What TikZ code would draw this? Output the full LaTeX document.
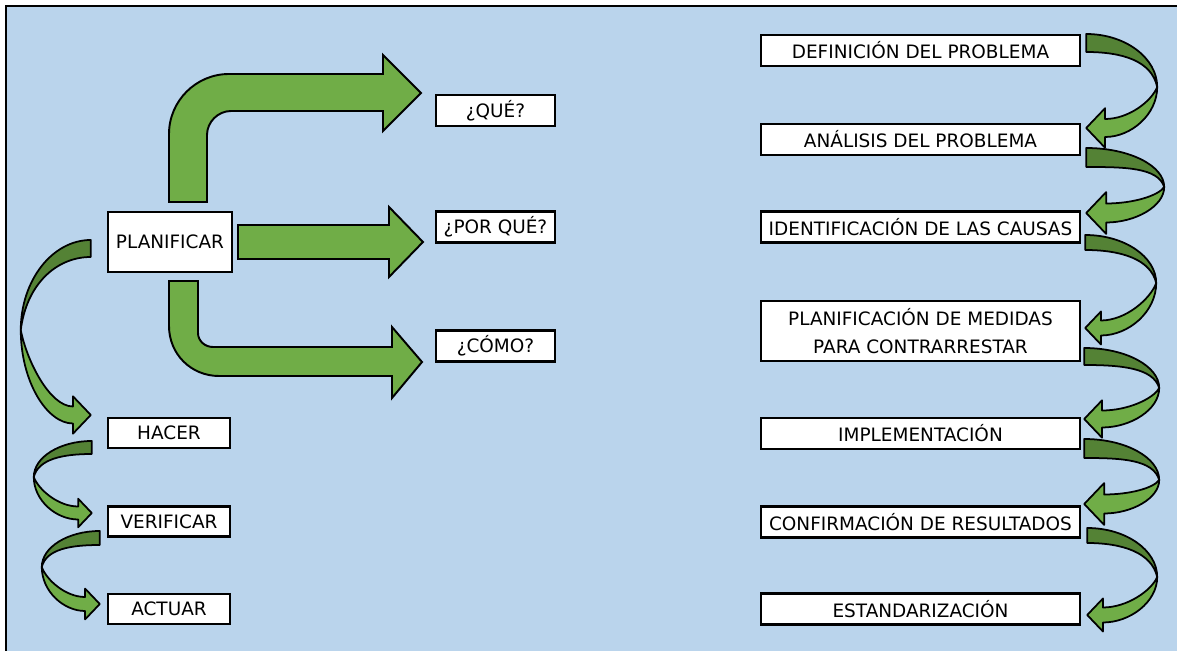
\documentclass[tikz,border=0pt]{standalone}
\usepackage{fontspec}
\setmainfont{DejaVu Sans}
\usetikzlibrary{calc}
\definecolor{skyback}{RGB}{186,212,236}
\definecolor{leafgreen}{RGB}{112,173,71}
\definecolor{darkleaf}{RGB}{84,130,53}

% curled ribbon arrow: #1 reach, #2 depth of the turn, #3 drop to the tip, #4 tail width
\tikzset{
  pics/curl/.style n args={4}{code={
    \filldraw[fill=darkleaf, draw=black, line width=1pt, line join=round]
      (0,0) .. controls (-0.55*#1,0) and (-#1,0.45*#2) .. (-#1,#2)
      .. controls (-0.92*#1,0.5*#2) and (-0.5*#1,#4) .. (0,#4) -- cycle;
    \filldraw[fill=leafgreen, draw=black, line width=1pt, line join=round]
      (-#1,#2) .. controls (-#1,{#2+0.55*(#3+0.5*#4-#2)}) and ({-0.5*#1-0.525*#4},{#3+0.5*#4}) .. ({-1.05*#4},{#3+0.5*#4})
      -- ({-1.05*#4},{#3+1.1*#4}) -- (0,#3) -- ({-1.05*#4},{#3-1.1*#4}) -- ({-1.05*#4},{#3-0.5*#4})
      .. controls ({-0.45*#1-0.58*#4},{#3-0.5*#4}) and ({-0.92*#1},{#2+0.35*(#3-#2)}) .. (-#1,#2) -- cycle;
  }}
}

\begin{document}
\begin{tikzpicture}[x=0.02cm, y=-0.02cm,
    box/.style={draw, fill=white, line width=1.4pt, inner sep=0pt, font=\fontsize{10.5}{12}\selectfont},
    pdca/.style={box, minimum width=2.44cm, minimum height=0.6cm},
    ask/.style={box, minimum width=2.38cm, minimum height=0.62cm},
    phase/.style={box, minimum width=6.38cm, minimum height=0.62cm},
    bigarrow/.style={fill=leafgreen, draw=black, line width=1.1pt}]
  \useasboundingbox (0,0) rectangle (1177,651);
  \fill[skyback] (6,6) rectangle (1177,651);
  \draw[line width=1.2pt] (6,651) -- (6,6) -- (1177,6);

  % left column
  \node[pdca, minimum width=2.48cm, minimum height=1.2cm] (plan) at (170,242) {PLANIFICAR};
  \node[pdca] (hacer) at (169,433) {HACER};
  \node[pdca] (verif) at (169,521.5) {VERIFICAR};
  \node[pdca] (actuar) at (169,609) {ACTUAR};

  % questions
  \node[ask] (que) at (495.5,110.5) {¿QUÉ?};
  \node[ask] (porque) at (495.5,227) {¿POR QUÉ?};
  \node[ask] (como) at (495.5,346) {¿CÓMO?};

  % right column
  \node[phase] (defin) at (920.5,50.5) {DEFINICIÓN DEL PROBLEMA};
  \node[phase] (analisis) at (920.5,139.5) {ANÁLISIS DEL PROBLEMA};
  \node[phase] (causas) at (920.5,227) {IDENTIFICACIÓN DE LAS CAUSAS};
  \node[phase, minimum height=1.2cm, align=center] (medidas) at (920.5,331) {PLANIFICACIÓN DE MEDIDAS\\[4pt]PARA CONTRARRESTAR};
  \node[phase] (implem) at (920.5,433.5) {IMPLEMENTACIÓN};
  \node[phase] (confirm) at (920.5,522) {CONFIRMACIÓN DE RESULTADOS};
  \node[phase] (estand) at (920.5,609) {ESTANDARIZACIÓN};

  % bent arrows out of PLANIFICAR
  \draw[bigarrow] (169,202) -- (169,134) .. controls (169,101) and (196,74) .. (229,74)
    -- (383,74) -- (383,55) -- (421,93) -- (383,131) -- (383,111) -- (231,111)
    .. controls (218,111) and (207,122) .. (207,135) -- (207,202) -- cycle;
  \draw[bigarrow] (238,225) -- (389,225) -- (389,207) -- (423,242) -- (389,277)
    -- (389,259) -- (238,259) -- cycle;
  \draw[bigarrow] (169,281) -- (198,281) -- (198,333) .. controls (198,341) and (205,347) .. (213,347)
    -- (392,347) -- (392,327) -- (422,362) -- (392,398) -- (392,376) -- (219,376)
    .. controls (191,376) and (169,354) .. (169,326) -- cycle;

  % curls on the left
  \pic at ($(plan.west)+(-16,-2)$) {curl={70}{90}{175}{17}};
  \pic at ($(hacer.west)+(-15,8)$) {curl={58}{36}{72}{13}};
  \pic at ($(verif.west)+(-7,9.5)$) {curl={58}{36}{73}{14}};

  % curls on the right
  \pic[xscale=-1] at ($(defin.east)+(5,-16.5)$) {curl={71}{53}{94}{18}};
  \pic[xscale=-1] at ($(analisis.east)+(5,8.5)$) {curl={78}{39}{65}{19}};
  \pic[xscale=-1] at ($(causas.east)+(4,8)$) {curl={71}{48}{93}{15}};
  \pic[xscale=-1] at ($(medidas.east)+(3,17)$) {curl={75}{40}{71}{17}};
  \pic[xscale=-1] at ($(implem.east)+(3,5.5)$) {curl={75}{41}{65}{19}};
  \pic[xscale=-1] at ($(confirm.east)+(6,6)$) {curl={70}{49}{87}{15}};
\end{tikzpicture}
\end{document}
